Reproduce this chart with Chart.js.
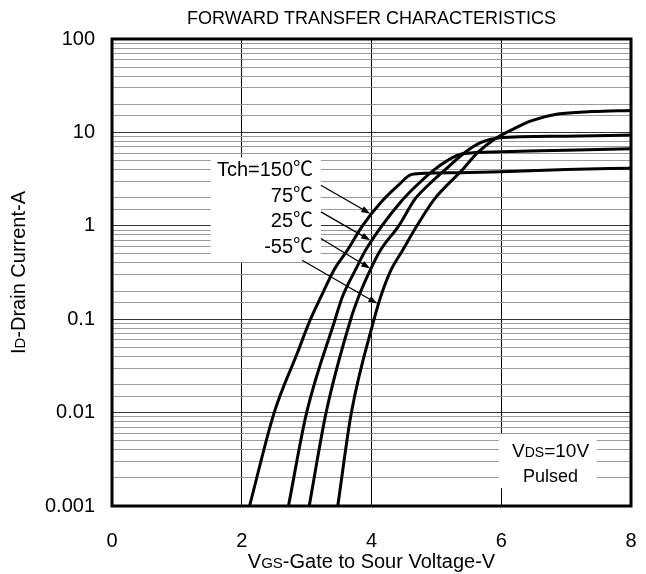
<!DOCTYPE html>
<html>
<head>
<meta charset="utf-8">
<script src="https://cdn.jsdelivr.net/npm/chart.js@4.4.0/dist/chart.umd.min.js"></script>
<style>
  html, body { margin: 0; padding: 0; background: #fff; }
  #contenedor { width: 646px; height: 574px; }
</style>
</head>
<body>
<div id="contenedor"><canvas id="grafico"></canvas></div>
<script>
// Datos (VGS en V, ID en A)
const vgsT150 = [2.12, 2.50, 2.86, 3.06, 3.22, 3.42, 3.63, 3.86, 4.15, 4.42, 4.62, 4.85, 5.5, 6.0, 7.0, 8.0]
const idT150 = [0.001, 0.01, 0.044, 0.1, 0.173, 0.335, 0.55, 1.0, 1.8, 2.75, 3.55, 3.66, 3.72, 3.8, 4.0, 4.14]

const vgsT75 = [2.72, 3.00, 3.44, 3.55, 3.75, 3.91, 4.16, 4.45, 4.67, 4.95, 5.15, 5.4, 6.0, 7.0, 8.0]
const idT75 = [0.001, 0.01, 0.1, 0.173, 0.335, 0.55, 1.0, 1.8, 2.6, 3.9, 4.9, 5.9, 6.2, 6.45, 6.7]

const vgsT25 = [3.04, 3.30, 3.68, 3.80, 3.98, 4.14, 4.42, 4.67, 4.88, 5.12, 5.44, 5.69, 5.95, 7.0, 8.0]
const idT25 = [0.001, 0.01, 0.1, 0.173, 0.335, 0.55, 1.0, 1.93, 2.75, 3.9, 6.1, 7.8, 8.7, 9.1, 9.4]

const vgsTm55 = [3.48, 3.69, 4.04, 4.14, 4.30, 4.48, 4.70, 4.97, 5.39, 5.64, 5.90, 6.2, 6.46, 6.87, 7.4, 8.0]
const idTm55 = [0.001, 0.01, 0.1, 0.173, 0.335, 0.548, 1.0, 1.93, 3.9, 6.1, 8.5, 11.0, 13.3, 15.7, 16.7, 17.2]

const etiquetasSerie = ['Tch=150℃', '75℃', '25℃', '-55℃']
const yTickLabels = ['0.001', '0.01', '0.1', '1', '10', '100']

const fuente = '"Liberation Sans", Arial, "Noto Sans CJK SC", sans-serif'

function puntos(xs, ys) {
    return xs.map((x, i) => ({ x: x, y: ys[i] }))
}

function esDecada(v) {
    const l = Math.log10(v)
    return Math.abs(l - Math.round(l)) < 1e-6
}

// Texto con partes de distinto tamaño (subíndices tipo ID, VGS)
function textoMixto(ctx, partes, x, y, align) {
    let ancho = 0
    partes.forEach(p => {
        ctx.font = p[1] + 'px ' + fuente
        ancho += ctx.measureText(p[0]).width
    })
    let xi = x
    if (align === 'center') xi = x - ancho / 2
    if (align === 'right') xi = x - ancho
    ctx.textAlign = 'left'
    ctx.textBaseline = 'alphabetic'
    partes.forEach(p => {
        ctx.font = p[1] + 'px ' + fuente
        ctx.fillText(p[0], xi, y)
        xi += ctx.measureText(p[0]).width
    })
}

function flecha(ctx, x1, y1, x2, y2) {
    const ang = Math.atan2(y2 - y1, x2 - x1)
    const largo = 9, medio = 3.2
    ctx.beginPath()
    ctx.moveTo(x1, y1)
    ctx.lineTo(x2 - Math.cos(ang) * largo * 0.8, y2 - Math.sin(ang) * largo * 0.8)
    ctx.lineWidth = 1.3
    ctx.strokeStyle = '#000'
    ctx.stroke()
    ctx.beginPath()
    ctx.moveTo(x2, y2)
    ctx.lineTo(x2 - Math.cos(ang) * largo + Math.sin(ang) * medio, y2 - Math.sin(ang) * largo - Math.cos(ang) * medio)
    ctx.lineTo(x2 - Math.cos(ang) * largo - Math.sin(ang) * medio, y2 - Math.sin(ang) * largo + Math.cos(ang) * medio)
    ctx.closePath()
    ctx.fillStyle = '#000'
    ctx.fill()
}

// Anotaciones en unidades de datos
const cajaEtiquetas = { x1: 1.52, y1: 5.4, x2: 3.22, y2: 0.41 }
const textoEtiquetas = { x: 3.1, ys: [4.1, 2.15, 1.15, 0.61] }
const flechas = [
    [3.22, 2.72, 3.98, 1.35],
    [3.22, 1.41, 3.98, 0.70],
    [3.22, 0.73, 3.98, 0.349],
    [2.93, 0.428, 4.09, 0.147]
]
const cajaVds = { x1: 5.96, y1: 0.0059, x2: 7.47, y2: 0.00155 }
const textoVds = { x: 6.76, y1: 0.00396, y2: 0.00214 }

const decoracion = {
    id: 'decoracion',
    beforeDatasetsDraw(chart) {
        const ctx = chart.ctx
        const sx = chart.scales.x, sy = chart.scales.y
        ctx.save()
        ctx.fillStyle = '#fff'
        ;[cajaEtiquetas, cajaVds].forEach(c => {
            const a = sx.getPixelForValue(c.x1), b = sy.getPixelForValue(c.y1)
            const d = sx.getPixelForValue(c.x2), e = sy.getPixelForValue(c.y2)
            ctx.fillRect(a, b, d - a, e - b)
        })
        ctx.restore()
    },
    afterDatasetsDraw(chart) {
        const ctx = chart.ctx
        const area = chart.chartArea
        const sx = chart.scales.x, sy = chart.scales.y
        ctx.save()

        // marco grueso
        ctx.lineWidth = 3
        ctx.strokeStyle = '#000'
        ctx.strokeRect(area.left, area.top, area.right - area.left, area.bottom - area.top)

        ctx.fillStyle = '#000'
        // etiquetas de temperatura
        etiquetasSerie.forEach((t, i) => {
            const px = sx.getPixelForValue(textoEtiquetas.x)
            const py = sy.getPixelForValue(textoEtiquetas.ys[i])
            textoMixto(ctx, [[t, 20]], px, py + 7, 'right')
        })
        flechas.forEach(f => {
            flecha(ctx, sx.getPixelForValue(f[0]), sy.getPixelForValue(f[1]),
                sx.getPixelForValue(f[2]), sy.getPixelForValue(f[3]))
        })

        // VDS=10V Pulsed
        const vx = sx.getPixelForValue(textoVds.x)
        textoMixto(ctx, [['V', 19], ['DS', 14], ['=10V', 19]], vx, sy.getPixelForValue(textoVds.y1) + 7, 'center')
        textoMixto(ctx, [['Pulsed', 18]], vx, sy.getPixelForValue(textoVds.y2) + 7, 'center')

        // título
        const cx = (area.left + area.right) / 2
        textoMixto(ctx, [['FORWARD TRANSFER CHARACTERISTICS', 18]], cx, 24, 'center')

        // título eje x
        textoMixto(ctx, [['V', 20], ['GS', 15], ['-Gate to Sour Voltage-V', 20]], cx, 568, 'center')

        // título eje y
        ctx.translate(25, (area.top + area.bottom) / 2)
        ctx.rotate(-Math.PI / 2)
        textoMixto(ctx, [['I', 20], ['D', 15], ['-Drain Current-A', 20]], 0, 0, 'center')
        ctx.restore()
    }
}

const grafico = new Chart(document.getElementById('grafico'), {
    type: 'line',
    data: {
        datasets: [
            { label: etiquetasSerie[0], data: puntos(vgsT150, idT150) },
            { label: etiquetasSerie[1], data: puntos(vgsT75, idT75) },
            { label: etiquetasSerie[2], data: puntos(vgsT25, idT25) },
            { label: etiquetasSerie[3], data: puntos(vgsTm55, idTm55) }
        ].map(d => Object.assign(d, {
            borderColor: '#000',
            borderWidth: 3,
            pointRadius: 0,
            fill: false,
            cubicInterpolationMode: 'monotone'
        }))
    },
    options: {
        responsive: true,
        maintainAspectRatio: false,
        animation: false,
        layout: { padding: { top: 39, right: 15, left: 0, bottom: 0 } },
        plugins: {
            legend: { display: false },
            tooltip: { enabled: false },
            title: { display: false }
        },
        scales: {
            x: {
                type: 'linear',
                min: 0,
                max: 8,
                ticks: {
                    stepSize: 2,
                    padding: 23,
                    color: '#000',
                    font: { family: fuente, size: 20 }
                },
                grid: {
                    drawTicks: false,
                    lineWidth: 1,
                    color: c => (c.tick && (c.tick.value === 0 || c.tick.value === 8)) ? 'rgba(0,0,0,0)' : '#000'
                },
                border: { display: false },
                afterFit(s) {
                    s.height = 68
                    s.paddingLeft = 0
                    s.paddingRight = 0
                }
            },
            y: {
                type: 'logarithmic',
                min: 0.001,
                max: 100,
                ticks: {
                    autoSkip: false,
                    padding: 17,
                    color: '#000',
                    font: { family: fuente, size: 20 },
                    callback: v => esDecada(v) ? yTickLabels[Math.round(Math.log10(v)) + 3] : ''
                },
                grid: {
                    drawTicks: false,
                    lineWidth: 1,
                    color: c => (c.tick && esDecada(c.tick.value)) ? '#333' : '#9a9a9a'
                },
                border: { display: false },
                afterFit(s) { s.width = 112 }
            }
        }
    },
    plugins: [decoracion]
})
</script>
</body>
</html>
